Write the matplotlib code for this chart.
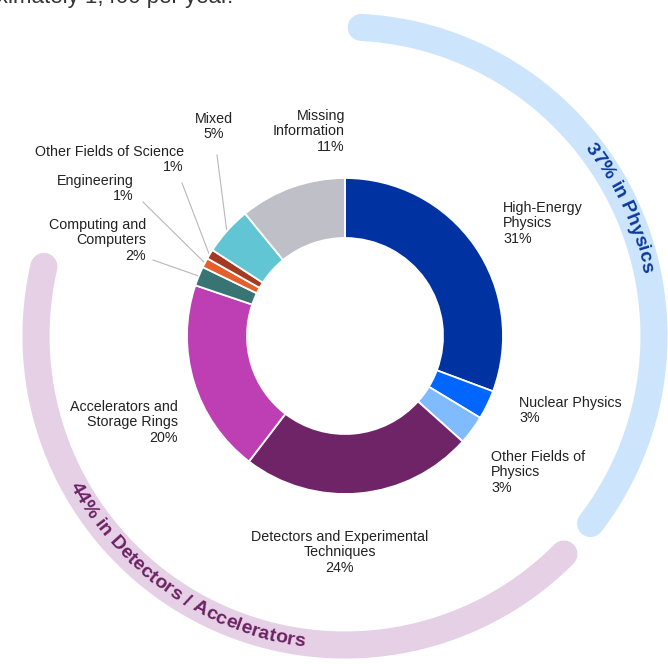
import numpy as np
import matplotlib
matplotlib.use("Agg")
import matplotlib.pyplot as plt
from matplotlib.font_manager import FontProperties

# data
categories = ["High-Energy\nPhysics", "Nuclear Physics", "Other Fields of\nPhysics",
              "Detectors and Experimental\nTechniques", "Accelerators and\nStorage Rings",
              "Computing and\nComputers", "Engineering", "Other Fields of Science",
              "Mixed", "Missing\nInformation"]
shares = [31, 3, 3, 24, 20, 2, 1, 1, 5, 11]
colors = ["#0033a1", "#0066ff", "#80baff", "#6e2466", "#bd3fb3",
          "#387474", "#e35f2c", "#a53a22", "#62c5d3", "#bfbfc8"]
groups = ["37% in Physics", "44% in Detectors / Accelerators"]
group_members = [[0, 1, 2], [3, 4]]
group_band = ["#cde5fc", "#e5d0e5"]
group_text = ["#0b3a9e", "#6b2263"]
header = "approximately 1,400 per year."

W, H = 668, 664
fig = plt.figure(figsize=(W / 100, H / 100), dpi=100)
ax = fig.add_axes([0, 0, 1, 1])

cx, cy = 345, H - 336
R, ring = 158, 60

ax.pie(shares, colors=colors, startangle=90, counterclock=False, radius=R,
       center=(cx, cy),
       wedgeprops=dict(width=ring, edgecolor="white", linewidth=1.3))
ax.set_xlim(0, W)
ax.set_ylim(0, H)
ax.set_aspect("equal")
ax.axis("off")

total = sum(shares)
cum = np.concatenate([[0], np.cumsum(shares)]) / total * 360.0


def polar(theta_deg, r):
    t = np.radians(theta_deg)
    return cx + r * np.sin(t), cy + r * np.cos(t)


# outer group bands
band_r = 309
pads = [(3.0, 4.5), (3.0, 5.7)]
for k, members in enumerate(group_members):
    a = cum[members[0]] + pads[k][0]
    b = cum[members[-1] + 1] - pads[k][1]
    th = np.linspace(a, b, 200)
    x, y = polar(th, band_r)
    ax.plot(x, y, color=group_band[k], lw=19.5, solid_capstyle="round", zorder=1)

# curved text along the bands
renderer = fig.canvas.get_renderer()
fp = FontProperties(family="Liberation Sans", weight="bold", size=14)


def char_w(ch):
    w1 = renderer.get_text_width_height_descent("|" + ch + "|", fp, ismath=False)[0]
    w0 = renderer.get_text_width_height_descent("||", fp, ismath=False)[0]
    return w1 - w0


def curved(text, theta_c, r, color, clockwise):
    widths = [char_w(c) for c in text]
    total_w = sum(widths)
    span = np.degrees(total_w / r)
    pos = 0.0
    for ch, w in zip(text, widths):
        off = np.degrees((pos + w / 2) / r)
        if clockwise:
            th = theta_c - span / 2 + off
            rot = -th
        else:
            th = theta_c + span / 2 - off
            rot = 180 - th
        x, y = polar(th, r)
        ax.text(x, y, ch, fontproperties=fp, color=color, rotation=rot,
                ha="center", va="center", rotation_mode="anchor", zorder=3)
        pos += w


curved(groups[0], 65.0, band_r, group_text[0], True)
curved(groups[1], 214.5, band_r, group_text[1], False)

# labels
lab_font = dict(family="Liberation Sans", size=10.3, color="#222222", linespacing=1.12)
labels = [f"{c}\n{v}%" for c, v in zip(categories, shares)]
label_pos = [(503, 201, "left"), (519, 396, "left"), (491, 450, "left"),
             (340, 530, "center"), (178, 400, "right"), (146, 218, "right"),
             (134, 174, "right"), (184, 145, "right"), (214, 112, "center"),
             (345, 109, "right")]
for txt, (x, y, al) in zip(labels, label_pos):
    ax.text(x, H - y, txt, ha=al, va="top", multialignment=al, **lab_font)

# leader lines for the small slices
leaders = {5: (153, 260), 6: (143, 202), 7: (182, 183), 8: (217, 155)}
for i, (lx, ly) in leaders.items():
    mid = (cum[i] + cum[i + 1]) / 2
    ex, ey = polar(mid, R + 1)
    ax.plot([lx, ex], [H - ly, ey], color="#b8b8b8", lw=0.8, zorder=0)

# cut-off header line above the chart
ax.text(233, H - 3.5, header, ha="right", va="baseline",
        family="Liberation Sans", size=16, color="#333333")

fig.savefig("out.png", dpi=100)
